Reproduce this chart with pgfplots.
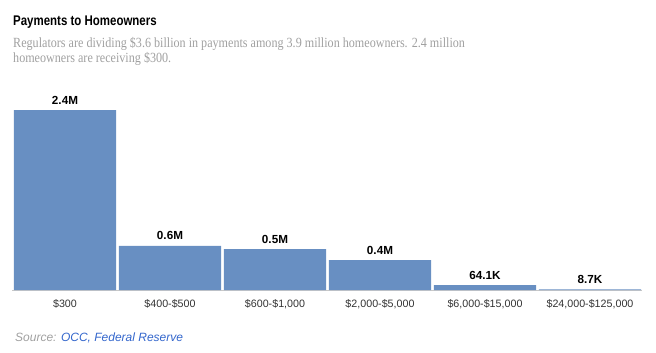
\documentclass[border=0pt]{standalone}
\usepackage{pgfplots}
\pgfplotsset{compat=1.18}
\usepackage{fontspec}
\setmainfont{Liberation Sans}
\newfontfamily\titlefont[FakeStretch=0.82]{Liberation Sans}
\newfontfamily\subfont[FakeStretch=0.865]{Liberation Serif}
\definecolor{barblue}{RGB}{104,143,194}
\definecolor{subgray}{RGB}{160,160,160}
\definecolor{ticktext}{RGB}{51,51,51}
\definecolor{linkblue}{RGB}{51,102,204}
\definecolor{baseline}{RGB}{200,200,200}
\begin{document}
\begin{tikzpicture}[x=1pt,y=1pt]
\useasboundingbox (0,0) rectangle (656,-353);
\coordinate (axpos) at (12.5,-290);
\node[anchor=base west, inner sep=0, font=\titlefont\bfseries\fontsize{14}{16}\selectfont] at (13,-26) {Payments to Homeowners};
\node[anchor=base west, inner sep=0, text=subgray, font=\subfont\fontsize{14}{15}\selectfont] at (13,-47.5) {Regulators are dividing \$3.6 billion in payments among 3.9 million homeowners. 2.4 million};
\node[anchor=base west, inner sep=0, text=subgray, font=\subfont\fontsize{14}{15}\selectfont] at (13,-62.5) {homeowners are receiving \$300.};
\begin{axis}[
  at={(axpos)}, anchor=south west,
  scale only axis, width=630pt, height=180pt,
  xmin=-0.5, xmax=5.5, ymin=0, ymax=2.4,
  clip=false,
  hide y axis,
  axis x line*=bottom,
  x axis line style={draw=baseline, line width=1pt, -},
  xtick=data,
  xticklabels={\$300,\$400-\$500,\$600-\$1{,}000,\$2{,}000-\$5{,}000,\$6{,}000-\$15{,}000,\$24{,}000-\$125{,}000},
  major tick length=0pt,
  xticklabel style={anchor=base, inner sep=0pt, yshift=-17pt, text=ticktext, font=\fontsize{10.7}{12}\selectfont},
  ybar, bar width=102pt,
  point meta=explicit symbolic,
  nodes near coords,
  nodes near coords style={anchor=base, inner sep=0pt, yshift=6pt, font=\bfseries\fontsize{11.7}{13}\selectfont, text=black},
]
\addplot[fill=barblue, draw=none] coordinates {
  (0,2.4) [2.4M]
  (1,0.59) [0.6M]
  (2,0.545) [0.5M]
  (3,0.4) [0.4M]
  (4,0.0641) [64.1K]
  (5,0.0087) [8.7K]
};
\end{axis}
\node[anchor=base west, inner sep=0, font=\itshape\fontsize{12}{14}\selectfont] at (15,-341) {\textcolor{subgray}{Source:} \textcolor{linkblue}{OCC, Federal Reserve}};
\end{tikzpicture}
\end{document}
